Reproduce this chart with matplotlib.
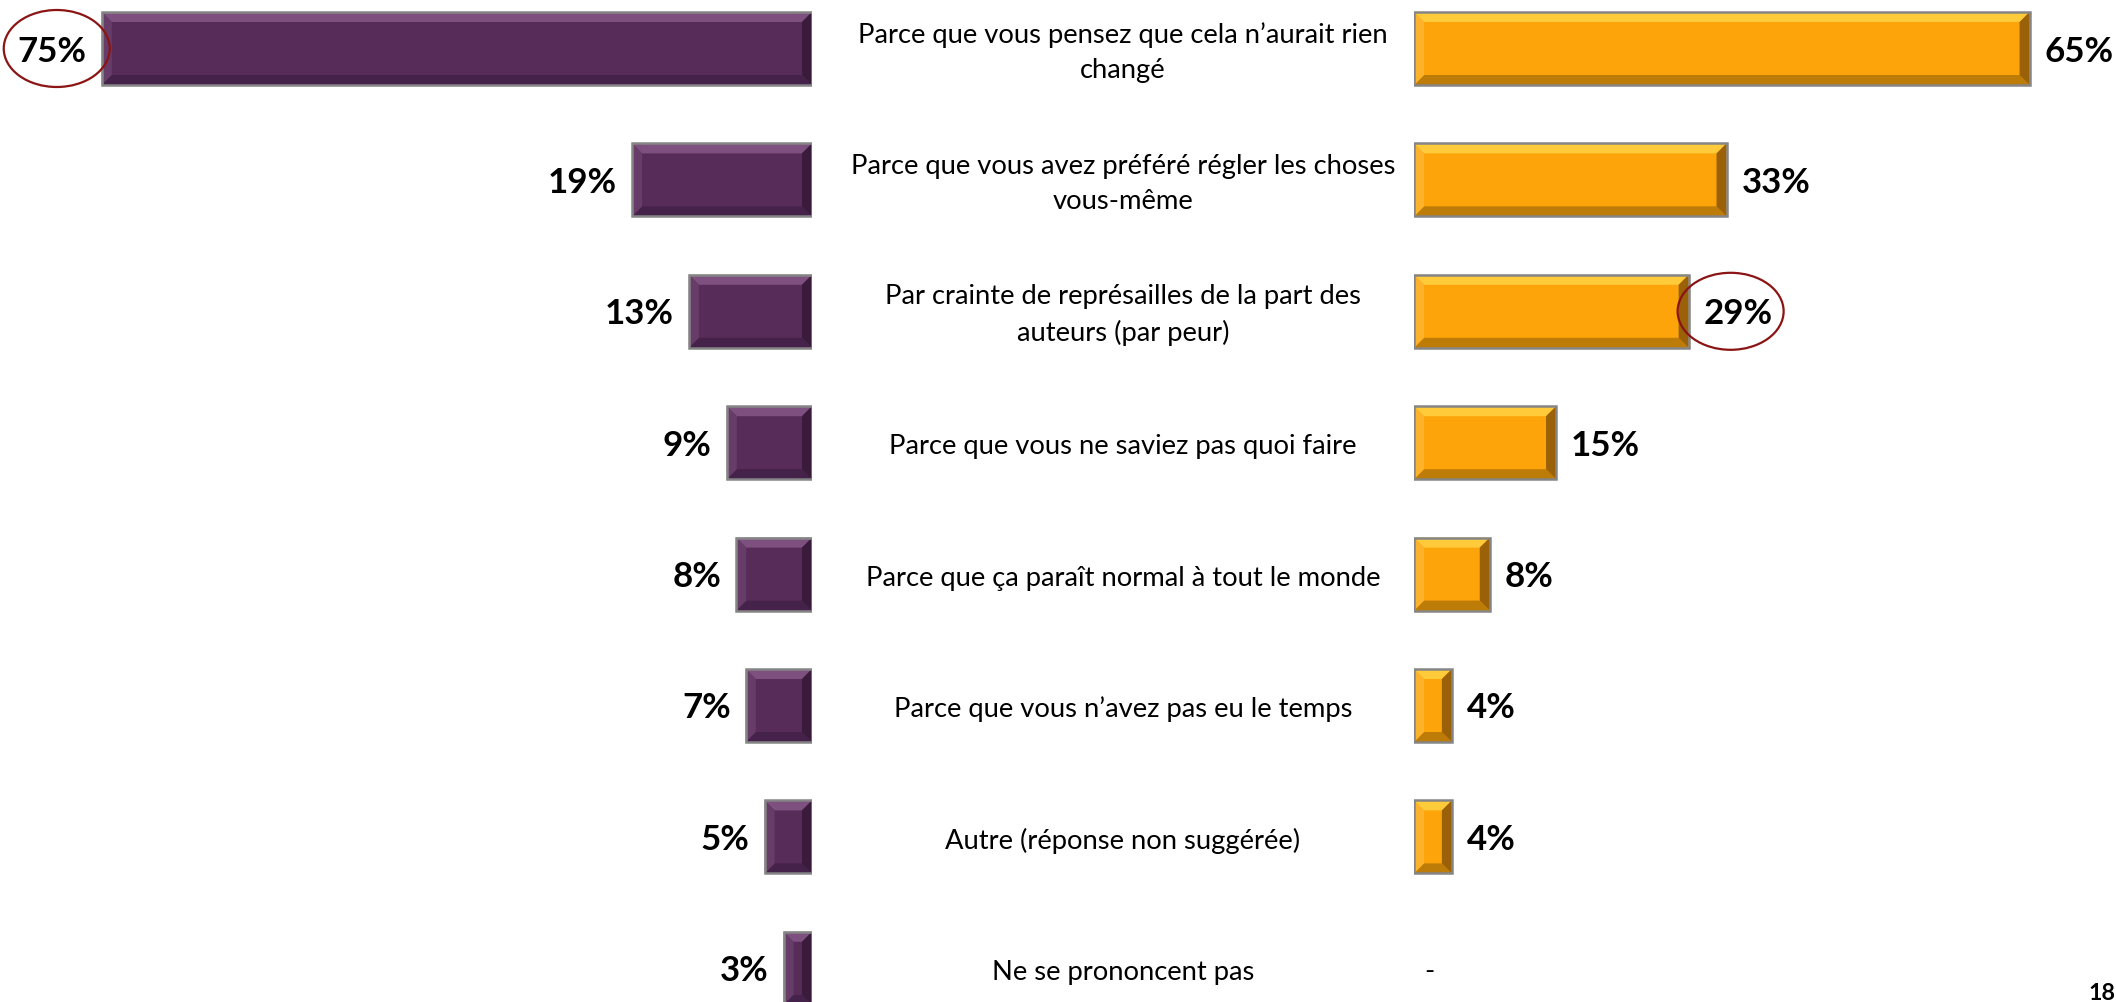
import numpy as np
import matplotlib
matplotlib.use("Agg")
import matplotlib.pyplot as plt
from matplotlib.patches import Polygon, Ellipse, Rectangle
from matplotlib import transforms

# ---- data -------------------------------------------------------------
categories = [
    "Parce que vous pensez que cela n\u2019aurait rien\nchangé",
    "Parce que vous avez préféré régler les choses\nvous-même",
    "Par crainte de représailles de la part des\nauteurs (par peur)",
    "Parce que vous ne saviez pas quoi faire",
    "Parce que ça paraît normal à tout le monde",
    "Parce que vous n\u2019avez pas eu le temps",
    "Autre (réponse non suggérée)",
    "Ne se prononcent pas",
]
values_left = [75, 19, 13, 9, 8, 7, 5, 3]
values_right = [65, 33, 29, 15, 8, 4, 4, np.nan]   # nan -> shown as "-"
circled_left = [0]
circled_right = [2]
page_number = "18"

# ---- style ------------------------------------------------------------
FONT = ["Lato", "DejaVu Sans"]
PURPLE = dict(face="#582C58", top="#7E507F", left="#683C69",
              right="#3A1B3C", bottom="#44224A")
ORANGE = dict(face="#FCA40A", top="#FFCB3A", left="#FDB22C",
              right="#9A6108", bottom="#BD7B08")
BORDER = "#858585"
CIRCLE = "#8B1414"

W, H, DPI = 2116, 1002, 100
PX = 9.47          # pixels per percentage point
ROW = 131.4        # pixels between rows
TOP = 48.5         # centre of first row, pixels from top
ZERO_L, ZERO_R = 812, 1414
BEVEL = 10         # bevel width in pixels
GAP = 15           # label gap in pixels

fig = plt.figure(figsize=(W / DPI, H / DPI), dpi=DPI)
fig.patch.set_facecolor("white")

axL = fig.add_axes([0, 0, ZERO_L / W, 1])
axR = fig.add_axes([ZERO_R / W, 0, 1 - ZERO_R / W, 1])
axL.set_xlim(ZERO_L / PX, 0)
axR.set_xlim(0, (W - ZERO_R) / PX)
for ax in (axL, axR):
    ax.set_ylim((H - TOP) / ROW, -TOP / ROW)
    ax.axis("off")

renderer = fig.canvas.get_renderer()


def fit_size(text, target_px, **kw):
    t = fig.text(0, 0, text, fontsize=20, family=FONT, **kw)
    w = t.get_window_extent(renderer).width
    t.remove()
    return 20 * target_px / w


cat_fs = fit_size("Parce que vous pensez que cela n\u2019aurait rien", 532)
pct_fs = fit_size("19%", 69, fontweight="bold")
page_fs = fit_size("18", 27, fontweight="bold")

y = np.arange(len(categories))
bar_h = 73 / ROW


def bevel_bar(ax, rect, pal):
    x0, w = rect.get_x(), rect.get_width()
    yt, h = rect.get_y(), rect.get_height()
    inv = ax.xaxis_inverted()
    L, R = (x0 + w, x0) if inv else (x0, x0 + w)
    sx = 1 if R > L else -1
    bx = min(BEVEL / PX, abs(w) * 0.45)
    by = min(BEVEL / ROW, h * 0.45)
    T, B = yt, yt + h
    iL, iR = L + sx * bx, R - sx * bx
    iT, iB = T + by, B - by
    polys = [
        ([(L, T), (R, T), (iR, iT), (iL, iT)], pal["top"]),
        ([(L, B), (R, B), (iR, iB), (iL, iB)], pal["bottom"]),
        ([(L, T), (iL, iT), (iL, iB), (L, B)], pal["left"]),
        ([(R, T), (iR, iT), (iR, iB), (R, B)], pal["right"]),
    ]
    for pts, col in polys:
        ax.add_patch(Polygon(pts, closed=True, facecolor=col,
                             edgecolor="none", zorder=3))
    ax.add_patch(Rectangle((x0, yt), w, h, fill=False, edgecolor=BORDER,
                           linewidth=1.8, zorder=4))


# left series
vl = np.array(values_left, dtype=float)
barsL = axL.barh(y, vl, height=bar_h, color=PURPLE["face"], zorder=2)
for r in barsL:
    bevel_bar(axL, r, PURPLE)
for i, v in enumerate(vl):
    axL.annotate(f"{v:.0f}%", xy=(v, i), xytext=(-GAP, -3),
                 textcoords="offset pixels", ha="right", va="center",
                 fontsize=pct_fs, fontweight="bold", family=FONT, zorder=5)

# right series
vr = np.array(values_right, dtype=float)
mask = ~np.isnan(vr)
barsR = axR.barh(y[mask], vr[mask], height=bar_h, color=ORANGE["face"],
                 zorder=2)
for r in barsR:
    bevel_bar(axR, r, ORANGE)
for i, v in enumerate(vr):
    if np.isnan(v):
        axR.annotate("-", xy=(0, i), xytext=(GAP, -3),
                     textcoords="offset pixels", ha="center", va="center",
                     fontsize=cat_fs, family=FONT)
    else:
        axR.annotate(f"{v:.0f}%", xy=(v, i), xytext=(GAP, -3),
                     textcoords="offset pixels", ha="left", va="center",
                     fontsize=pct_fs, fontweight="bold", family=FONT, zorder=5)

# highlight circles around selected labels
ew, eh = 106 / PX, 77 / ROW
for i in circled_left:
    axL.add_patch(Ellipse((vl[i] + 45 / PX, i), ew, eh, fill=False,
                          edgecolor=CIRCLE, linewidth=1.6, zorder=6))
for i in circled_right:
    axR.add_patch(Ellipse((vr[i] + 42 / PX, i), ew, eh, fill=False,
                          edgecolor=CIRCLE, linewidth=1.6, zorder=6))

# category labels in the middle column
tr = transforms.blended_transform_factory(fig.transFigure, axL.transData)
for i, c in enumerate(categories):
    fig.text(1123 / W, i + 4 / ROW, c, transform=tr, ha="center",
             va="center", multialignment="center", fontsize=cat_fs,
             family=FONT, linespacing=1.5, color="black")

fig.text(1 - 1 / W, 2 / H, page_number, ha="right", va="baseline",
         fontsize=page_fs, fontweight="bold", family=FONT)

fig.savefig("out.png", dpi=DPI, facecolor="white")
